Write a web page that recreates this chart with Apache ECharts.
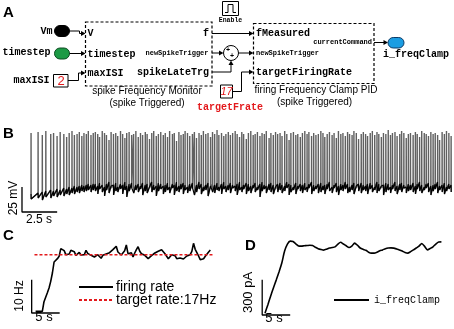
<!DOCTYPE html>
<html>
<head>
<meta charset="utf-8">
<script src="https://cdn.jsdelivr.net/npm/echarts@6/dist/echarts.min.js"></script>
<style>
html, body { margin: 0; padding: 0; background: #fff; }
#main { width: 454px; height: 329px; }
</style>
</head>
<body>
<div id="main"></div>
<script>
// ---- B: voltage trace, one entry per spike ----
// interval before each spike (ms)
var spikeIsi = [0, 500, 300, 250, 350, 200, 250, 220, 260, 200, 180, 200, 170, 190, 160, 180, 150, 170, 140, 190, 160,
	150, 170, 130, 190, 160, 140, 180, 150, 170, 160, 140, 200, 150, 160, 130, 170, 180, 140, 160, 170,
	160, 150, 190, 130, 170, 160, 140, 180, 150, 170, 180, 140, 160, 150, 200, 130, 160, 170, 150, 160,
	130, 170, 160, 190, 140, 150, 180, 160, 150, 170, 160, 180, 140, 150, 170, 130, 190, 160, 150, 170,
	150, 160, 180, 140, 170, 160, 130, 190, 150, 170, 170, 140, 160, 180, 150, 160, 140, 200, 130, 170,
	160, 150, 170, 140, 190, 150, 160, 130, 180, 170, 140, 180, 150, 170, 160, 130, 190, 150, 160, 170,
	180, 150, 130, 170, 160, 190, 140, 160, 150, 170, 150, 170, 160, 140, 180, 130, 170, 160, 190, 150,
	160, 140, 190, 150, 170, 160, 130, 180, 150, 170, 170, 160, 140, 180, 150, 190, 130, 160, 170, 150,
	150, 190, 160, 130, 170, 150, 180, 140, 160, 170, 160, 150, 170, 140, 180, 160, 150, 170, 160];
// spike peak (mV)
var spikePeak = [-5, -4, -7, -3, -6, -5, -8, -4, -6, -9, -5, -3, -7, -6, -4, -8, -5, -6, -3, -7, -5,
	-4, -6, -9, -3, -5, -7, -12, -4, -6, -5, -8, -3, -6, -10, -5, -4, -7, -6, -3, -9,
	-5, -7, -4, -6, -11, -5, -3, -8, -6, -4, -7, -5, -9, -3, -6, -5, -13, -4, -7, -6,
	-3, -5, -8, -6, -4, -10, -5, -7, -3, -6, -5, -9, -4, -6, -2, -7, -5, -8, -6, -4,
	-7, -5, -3, -6, -9, -4, -6, -11, -5, -3, -7, -6, -4, -8, -5, -6, -3, -10, -5, -7,
	-4, -6, -5, -8, -3, -6, -12, -5, -4, -7, -6, -9, -5, -3, -6, -4, -8, -5, -7, -6,
	-3, -5, -9, -6, -4, -7, -5, -10, -3, -6, -5, -8, -4, -6, -7, -3, -5, -11, -6, -4,
	-6, -8, -5, -3, -7, -4, -6, -9, -5, -6, -2, -7, -5, -4, -8, -6, -3, -5, -10, -6,
	-5, -7, -4, -6, -9, -3, -5, -6, -8, -4, -6, -5, -7, -12, -4, -6, -3, -5, -8];
// membrane level just before each spike (mV)
var spikeOnset = [-66, -65, -64, -63, -62, -63, -61, -62, -60, -61, -59, -60, -58, -59, -58, -57, -58, -57, -56, -57, -56,
	-56, -58, -55, -57, -59, -56, -54, -58, -57, -55, -59, -56, -57, -54, -58, -56, -55, -59, -57, -56,
	-58, -55, -57, -56, -59, -54, -57, -58, -55, -56, -58, -57, -55, -59, -56, -57, -54, -58, -56, -55,
	-57, -59, -56, -55, -58, -57, -54, -56, -59, -57, -55, -58, -56, -57, -55, -59, -56, -54, -58, -57,
	-55, -57, -58, -56, -54, -59, -57, -55, -56, -58, -57, -55, -59, -56, -54, -57, -58, -56, -55, -57,
	-59, -56, -55, -57, -58, -54, -56, -57, -59, -55, -58, -56, -57, -55, -59, -56, -54, -57, -58, -56,
	-55, -58, -57, -56, -54, -59, -57, -55, -58, -56, -57, -54, -56, -59, -57, -55, -58, -56, -55, -57,
	-58, -56, -55, -57, -59, -54, -56, -58, -57, -55, -56, -59, -57, -54, -58, -56, -55, -57, -59, -56,
	-57, -55, -58, -56, -54, -57, -59, -56, -55, -58, -57, -56, -54, -58, -57, -55, -59, -56, -57];
// after-hyperpolarisation after each spike (mV)
var spikeAhp = [-71, -70, -72, -69, -70, -68, -69, -67, -68, -66, -67, -65, -66, -64, -65, -63, -64, -63, -62, -64, -62,
	-63, -66, -61, -64, -68, -62, -65, -60, -67, -63, -64, -61, -66, -62, -69, -63, -60, -65, -62, -64,
	-61, -67, -63, -65, -60, -64, -62, -68, -63, -61, -66, -64, -62, -65, -60, -67, -63, -64, -61, -66,
	-62, -65, -63, -60, -67, -64, -61, -66, -63, -62, -68, -60, -64, -65, -62, -63, -66, -61, -64, -62,
	-65, -60, -63, -67, -62, -64, -61, -66, -63, -65, -60, -64, -62, -69, -63, -61, -65, -62, -64, -66,
	-61, -64, -62, -65, -63, -60, -67, -64, -62, -66, -61, -63, -65, -62, -64, -60, -66, -63, -61, -65,
	-64, -62, -66, -61, -63, -65, -60, -64, -67, -62, -63, -61, -65, -64, -62, -66, -60, -63, -65, -62,
	-63, -66, -61, -64, -62, -65, -63, -60, -67, -64, -62, -65, -61, -63, -66, -62, -64, -60, -65, -63,
	-62, -64, -66, -61, -63, -65, -62, -60, -64, -67, -63, -61, -65, -62, -64, -66, -63, -61, -64];

// ---- C: firing rate (Hz), one value every 0.3 s ----
var rateStep = 0.3;
var rateHz = [0, 0, 0, 0, 0, 2.9, 3.4, 5.6, 7.0, 9.0,
	11.5, 14.8, 15.3, 15.8, 16.5, 18.8, 19.4, 18.2, 17.0, 17.6,
	17.2, 18.3, 17.7, 17.9, 16.8, 17.3, 17.7, 16.9, 17.5, 17.0,
	18.3, 17.4, 17.8, 16.8, 17.2, 16.3, 16.9, 17.0, 16.4, 15.9,
	16.8, 16.3, 17.2, 16.9, 17.6, 17.2, 18.5, 17.9, 19.5, 17.8,
	17.6, 16.9, 16.5, 18.2, 19.9, 17.3, 17.9, 17.6, 16.3, 17.5,
	18.5, 19.4, 18.0, 17.3, 17.6, 16.8, 16.5, 15.8, 16.3, 16.7,
	17.0, 17.5, 17.2, 18.0, 17.7, 18.5, 17.9, 17.3, 16.5, 15.8,
	16.3, 17.0, 16.4, 16.7, 15.8, 15.3, 16.0, 16.5, 15.7, 16.0,
	16.6, 17.2, 17.0, 18.0, 20.4, 18.6, 17.6, 16.6, 15.5, 14.9,
	15.8, 16.5, 17.0, 17.8, 18.4];
var targetRate = 17;

// ---- D: clamp current (pA), one value every 0.5 s ----
var currentStep = 0.5;
var currentPa = [0, 70, 145, 215, 282, 352, 428, 530, 590, 615,
	611, 592, 574, 572, 575, 577, 580, 578, 562, 550,
	543, 538, 546, 556, 560, 566, 588, 605, 590, 575,
	560, 572, 598, 580, 556, 545, 537, 520, 512, 512,
	520, 532, 540, 550, 556, 557, 555, 548, 540, 530,
	518, 512, 525, 540, 556, 572, 595, 570, 540, 552,
	566, 590, 607, 608];

// scale bars
var scaleB = [2.5, 25];   // s, mV
var scaleC = [5, 10];     // s, Hz
var scaleD = [5, 300];    // s, pA

var chart = echarts.init(document.getElementById('main'));

//电压曲线: 完整曲线 + 基线噪声带
var vmData = [];
var baseData = [];
var t = 0;
for (var i = 0; i < spikePeak.length; i++) {
	t += spikeIsi[i] / 1000;
	vmData.push([t, spikeOnset[i]]);
	vmData.push([t + 0.004, spikePeak[i]]);
	vmData.push([t + 0.012, spikeAhp[i]]);
	baseData.push([t, spikeOnset[i]]);
	baseData.push([t + 0.012, spikeAhp[i]]);
}
var rateData = rateHz.map(function(v, k) { return [k * rateStep, v]; });
var currentData = currentPa.map(function(v, k) { return [k * currentStep, v]; });

var scaleBar = function(x0, y0, dx, dy) {
	return [[x0, y0 + dy], [x0, y0], [x0 + dx, y0]];
};

// ---- A: block diagram ----
var mono = 'bold 10px "Liberation Mono", "Courier New", monospace';
var monoSmall = 'bold 7px "Liberation Mono", "Courier New", monospace';
var sans = '10px "Liberation Sans", Arial, sans-serif';
var label = 'bold 15px "Liberation Sans", Arial, sans-serif';
var red = '#e3191c';

var txt = function(x, y, s, font, align, color, rot) {
	return {
		type: 'text', x: x, y: y, rotation: rot || 0, silent: true,
		style: { x: 0, y: 0, text: s, font: font, align: align || 'left', verticalAlign: 'middle', fill: color || '#000' }
	};
};
var wire = function(pts) {
	return { type: 'polyline', silent: true, shape: { points: pts }, style: { stroke: '#000', lineWidth: 1, fill: 'none' } };
};
var head = function(x, y, up) {
	var pts = up ? [[x - 2.5, y + 4.5], [x, y], [x + 2.5, y + 4.5]] : [[x - 4.5, y - 2.5], [x, y], [x - 4.5, y + 2.5]];
	return { type: 'polygon', silent: true, shape: { points: pts }, style: { fill: '#000' } };
};
var box = function(x, y, w, h, dash) {
	return {
		type: 'rect', silent: true, shape: { x: x, y: y, width: w, height: h },
		style: { fill: 'none', stroke: '#000', lineWidth: dash ? 1.2 : 1, lineDash: dash ? [3, 2] : null }
	};
};
var pill = function(x, y, w, h, fill, stroke) {
	return {
		type: 'rect', silent: true, shape: { x: x, y: y, width: w, height: h, r: h / 2 },
		style: { fill: fill, stroke: stroke, lineWidth: 1 }
	};
};

var diagram = [
	txt(3, 13, 'A', label),
	// spike frequency monitor
	txt(52.5, 31, 'Vm', mono, 'right'),
	pill(54.5, 25.5, 15, 11, '#000', '#000'),
	wire([[69.5, 31], [79.5, 31], [79.5, 33.5], [82, 33.5]]), head(85.5, 33.5),
	txt(50.5, 52.5, 'timestep', mono, 'right'),
	pill(54.5, 48, 15, 11, '#1c9a45', '#0d4d22'),
	wire([[69.5, 53.5], [82, 53.5]]), head(85.5, 53.5),
	txt(49.5, 80, 'maxISI', mono, 'right'),
	box(53.5, 74.5, 14.5, 12.5),
	txt(61, 81, '2', '13px "Liberation Sans", Arial, sans-serif', 'center', red),
	wire([[68, 80.5], [78.5, 80.5], [78.5, 73], [82, 73]]), head(85.5, 73),
	box(85.5, 22, 126.5, 64, true),
	txt(87.5, 33.5, 'V', mono), txt(87.5, 54, 'timestep', mono), txt(87.5, 73, 'maxISI', mono),
	txt(209, 33.5, 'f', mono, 'right'),
	txt(208.5, 53, 'newSpikeTrigger', monoSmall, 'right'),
	txt(209, 72, 'spikeLateTrg', mono, 'right'),
	txt(147, 91, 'spike Frequency Monitor', sans, 'center'),
	txt(147, 103, '(spike Triggered)', sans, 'center'),
	// enable + sum + target
	box(222.5, 1.5, 16, 14),
	wire([[225, 12.5], [228, 12.5], [228, 4.5], [233, 4.5], [233, 12.5], [236, 12.5]]),
	txt(230.5, 20, 'Enable', 'bold 6.5px "Liberation Mono", monospace', 'center'),
	wire([[212, 33.5], [250, 33.5]]), head(253.5, 33.5),
	wire([[212, 53], [219.5, 53]]), head(223.5, 53),
	{ type: 'circle', silent: true, shape: { cx: 231, cy: 53, r: 7.5 }, style: { fill: '#fff', stroke: '#000', lineWidth: 1 } },
	txt(228, 50.5, '+', 'bold 7px "Liberation Sans", sans-serif', 'center'),
	txt(232, 56.5, '+', 'bold 7px "Liberation Sans", sans-serif', 'center'),
	wire([[238.5, 53], [250, 53]]), head(253.5, 53),
	wire([[212, 72], [231, 72], [231, 64.5]]), head(231, 60.5, true),
	box(220.5, 85, 12, 13),
	txt(226.5, 91.5, '17', 'italic 11px "Liberation Sans", Arial, sans-serif', 'center', red),
	wire([[232.5, 91.5], [241.5, 91.5], [241.5, 72], [250, 72]]), head(253.5, 72),
	txt(230, 107, 'targetFrate', mono, 'center', red),
	// firing frequency clamp PID
	box(253.5, 23.5, 120.5, 60, true),
	txt(256, 33.5, 'fMeasured', mono), txt(256, 53, 'newSpikeTrigger', monoSmall), txt(256, 72, 'targetFiringRate', mono),
	txt(372, 42, 'currentCommand', monoSmall, 'right'),
	wire([[374, 42.5], [384.5, 42.5]]), head(388, 42.5),
	pill(388, 37.5, 16, 10.5, '#1b9de2', '#0b3a66'),
	txt(383, 54.5, 'i_freqClamp', mono),
	txt(316, 90.5, 'firing Frequency Clamp PID', sans, 'center'),
	txt(314.5, 102, '(spike Triggered)', sans, 'center'),
	// panel letters and scale bar labels
	txt(3, 133.5, 'B', label),
	txt(13.5, 198, '25 mV', '12px "Liberation Sans", Arial, sans-serif', 'center', '#000', Math.PI / 2),
	txt(39, 220, '2.5 s', '12px "Liberation Sans", Arial, sans-serif', 'center'),
	txt(3, 235.5, 'C', label),
	txt(20, 296, '10 Hz', '12px "Liberation Sans", Arial, sans-serif', 'center', '#000', Math.PI / 2),
	txt(44, 317.5, '5 s', '13px "Liberation Sans", Arial, sans-serif', 'center'),
	txt(245, 246, 'D', label),
	txt(248, 292.5, '300 pA', '13px "Liberation Sans", Arial, sans-serif', 'center', '#000', Math.PI / 2),
	txt(274, 318.5, '5 s', '13px "Liberation Sans", Arial, sans-serif', 'center')
];

var option = {
	animation: false,
	textStyle: { fontFamily: '"Liberation Sans", Arial, sans-serif' },
	grid: [
		{ left: 16.93, top: 128, width: 436.1, height: 85, outerBoundsMode: 'none' },
		{ left: 30, top: 238, width: 184.8, height: 80, outerBoundsMode: 'none' },
		{ left: 259.4, top: 237, width: 190.4, height: 82, outerBoundsMode: 'none' }
	],
	xAxis: [
		{ type: 'value', gridIndex: 0, min: -1, max: 30, show: false },
		{ type: 'value', gridIndex: 1, min: -1, max: 32, show: false },
		{ type: 'value', gridIndex: 2, min: -1, max: 33, show: false }
	],
	yAxis: [
		{ type: 'value', gridIndex: 0, min: -85, max: 0, show: false },
		{ type: 'value', gridIndex: 1, min: -2, max: 22, show: false },
		{ type: 'value', gridIndex: 2, min: -50, max: 650, show: false }
	],
	legend: [{
		data: ['firing rate', 'target rate:17Hz'],
		orient: 'vertical', left: 78, top: 280, padding: 0,
		itemWidth: 34, itemHeight: 10, itemGap: -1,
		selectedMode: false,
		itemStyle: { opacity: 0 },
		textStyle: { fontSize: 14, color: '#000', fontFamily: '"Liberation Sans", Arial, sans-serif', padding: [0, 0, 0, -2] }
	}, {
		data: ['i_freqClamp'],
		left: 333, top: 295, padding: 0,
		itemWidth: 35, itemHeight: 10,
		selectedMode: false,
		itemStyle: { opacity: 0 },
		textStyle: { fontSize: 10, color: '#000', fontFamily: '"Liberation Mono", monospace' }
	}],
	graphic: diagram,
	series: [{
		name: 'Vm', type: 'line', xAxisIndex: 0, yAxisIndex: 0, data: vmData,
		symbol: 'none', silent: true, lineStyle: { color: '#606060', width: 1.4 }
	}, {
		name: 'Vm baseline', type: 'line', xAxisIndex: 0, yAxisIndex: 0, data: baseData,
		symbol: 'none', silent: true, lineStyle: { color: '#000', width: 1.1 }
	}, {
		name: 'scaleB', type: 'line', xAxisIndex: 0, yAxisIndex: 0, clip: false,
		data: scaleBar(-0.64, -84, scaleB[0], scaleB[1]),
		symbol: 'none', silent: true, lineStyle: { color: '#000', width: 1.3 }
	}, {
		name: 'firing rate', type: 'line', xAxisIndex: 1, yAxisIndex: 1, data: rateData,
		symbol: 'none', silent: true, lineStyle: { color: '#000', width: 1.6 }, itemStyle: { color: '#000' }
	}, {
		name: 'target rate:17Hz', type: 'line', xAxisIndex: 1, yAxisIndex: 1,
		data: [[-0.2, targetRate], [31.6, targetRate]],
		symbol: 'none', silent: true, lineStyle: { color: red, width: 1.5, type: [3, 2] }, itemStyle: { color: red }
	}, {
		name: 'scaleC', type: 'line', xAxisIndex: 1, yAxisIndex: 1, clip: false,
		data: scaleBar(-0.7, -0.5, scaleC[0], scaleC[1]),
		symbol: 'none', silent: true, lineStyle: { color: '#000', width: 1.3 }
	}, {
		name: 'i_freqClamp', type: 'line', xAxisIndex: 2, yAxisIndex: 2, data: currentData,
		smooth: 0.2, symbol: 'none', silent: true, lineStyle: { color: '#000', width: 1.6 }, itemStyle: { color: '#000' }
	}, {
		name: 'scaleD', type: 'line', xAxisIndex: 2, yAxisIndex: 2, clip: false,
		data: scaleBar(-0.5, -16, scaleD[0], scaleD[1]),
		symbol: 'none', silent: true, lineStyle: { color: '#000', width: 1.3 }
	}]
};
chart.setOption(option);
</script>
</body>
</html>
